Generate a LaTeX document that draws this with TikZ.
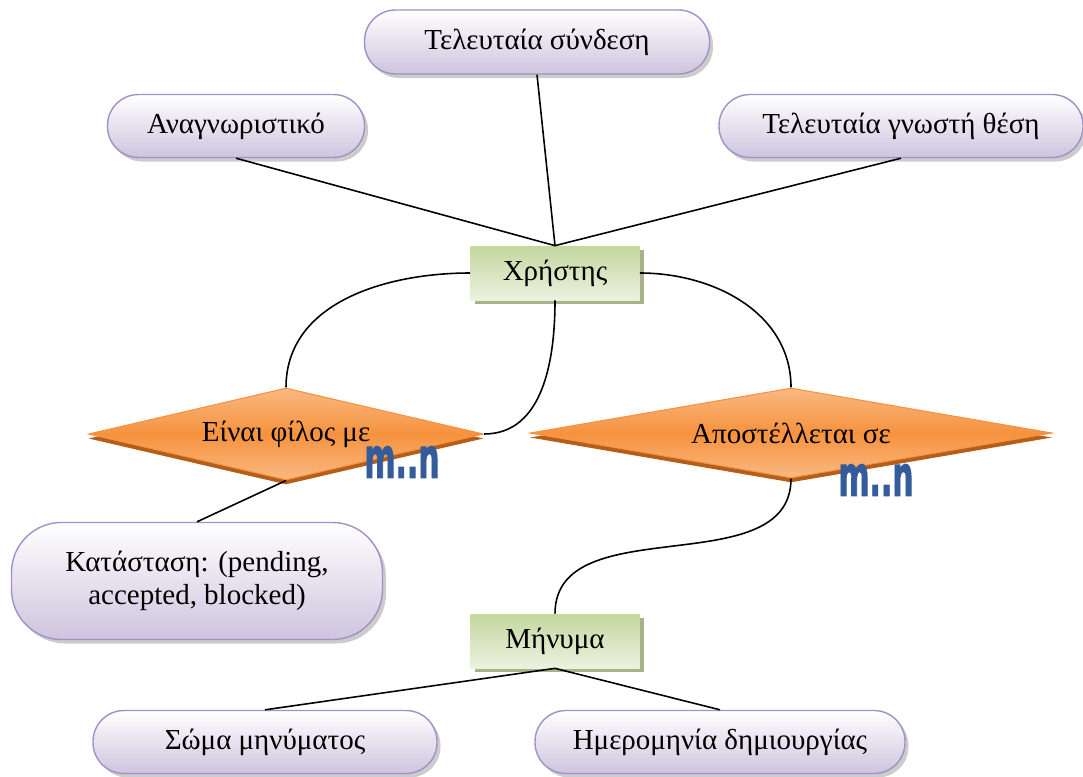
\documentclass[tikz,border=0pt]{standalone}
\usepackage{fontspec}
\setmainfont{Liberation Serif}
\newfontfamily\labelfont{Liberation Serif}
\newfontfamily\cardfont[BoldFeatures={FakeBold=2}]{DejaVu Sans}
\usetikzlibrary{shapes.geometric,shadows}

\definecolor{attrline}{RGB}{160,146,196}
\definecolor{attrfill}{RGB}{206,196,222}
\definecolor{entfill}{RGB}{196,215,158}
\definecolor{entlight}{RGB}{236,242,224}
\definecolor{entshadow}{RGB}{166,178,136}
\definecolor{relfill}{RGB}{246,146,62}
\definecolor{rellight}{RGB}{249,185,130}
\definecolor{relshadow}{RGB}{180,94,26}
\definecolor{cardblue}{RGB}{52,92,155}

\begin{document}
\begin{tikzpicture}[x=0.2mm,y=-0.2mm,
	attr/.style={draw=attrline, line width=0.8pt, rounded corners=6.2mm,
		top color=white, bottom color=attrfill, inner sep=0pt, align=center,
		font=\labelfont\fontsize{16.5}{19}\selectfont,
		drop shadow={shadow xshift=0.7mm, shadow yshift=-0.8mm, fill=black!40, opacity=0.5}},
	entity/.style={rectangle, top color=entfill, bottom color=entlight, inner sep=0pt,
		minimum width=33.8mm, minimum height=10.8mm, font=\labelfont\fontsize{16.5}{19}\selectfont,
		drop shadow={shadow xshift=0.8mm, shadow yshift=-0.8mm, fill=entshadow, opacity=1}},
	rel/.style={diamond, draw=relfill, line width=0.6pt, top color=rellight, bottom color=rellight,
		middle color=relfill, inner sep=0pt, font=\labelfont\fontsize{16.5}{19}\selectfont,
		drop shadow={shadow xshift=0mm, shadow yshift=-0.9mm, fill=relshadow, opacity=1}},
	card/.style={inner sep=0pt, text=cardblue, font=\cardfont\bfseries\fontsize{17}{17}\selectfont},
	link/.style={line width=0.9pt}]

	\useasboundingbox (0,0) rectangle (1083,776);

	% attributes
	\node[attr, minimum width=51.4mm, minimum height=12.6mm] (id) at (236,126) {Αναγνωριστικό};
	\node[attr, minimum width=69mm, minimum height=12.8mm] (seen) at (537,42) {Τελευταία σύνδεση};
	\node[attr, minimum width=72.8mm, minimum height=12.6mm] (place) at (901,126) {Τελευταία γνωστή θέση};
	\node[attr, minimum width=74.2mm, minimum height=23.4mm, rounded corners=10mm] (state) at (197,581) {Κατάσταση: (pending,\\accepted, blocked)};
	\node[attr, minimum width=68.8mm, minimum height=12.6mm] (body) at (265,742) {Σώμα μηνύματος};
	\node[attr, minimum width=74mm, minimum height=12.6mm] (date) at (720,742) {Ημερομηνία δημιουργίας};

	% entities
	\node[entity] (user) at (555,273) {Χρήστης};
	\node[entity] (msg) at (555,641) {Μήνυμα};

	% relations
	\node[rel, aspect=4.3, minimum width=79mm, minimum height=18.4mm] (friend) at (286,434) {Είναι φίλος με};
	\node[rel, aspect=5.8, minimum width=104.4mm, minimum height=18mm] (send) at (791,433) {Αποστέλλεται σε};

	\node[card] (card1) at (402,462) {\scalebox{1}[1.9]{m..n}};
	\node[card] (card2) at (876,480) {\scalebox{1}[1.9]{m..n}};

	\draw[link] (id.south) -- (user.north);
	\draw[link] (seen.south) -- (user.north);
	\draw[link] (place.south) -- (user.north);
	\draw[link] (user.west) to[out=180,in=90] (friend.north);
	\draw[link] (user.south) to[out=-90,in=0] (friend.east);
	\draw[link] (user.east) to[out=0,in=90] (send.north);
	\draw[link] (friend.south) -- (state.north);
	\draw[link] (send.south) to[out=-90,in=90] (msg.north);
	\draw[link] (msg.south) -- (body.north);
	\draw[link] (msg.south) -- (date.north);
\end{tikzpicture}
\end{document}
